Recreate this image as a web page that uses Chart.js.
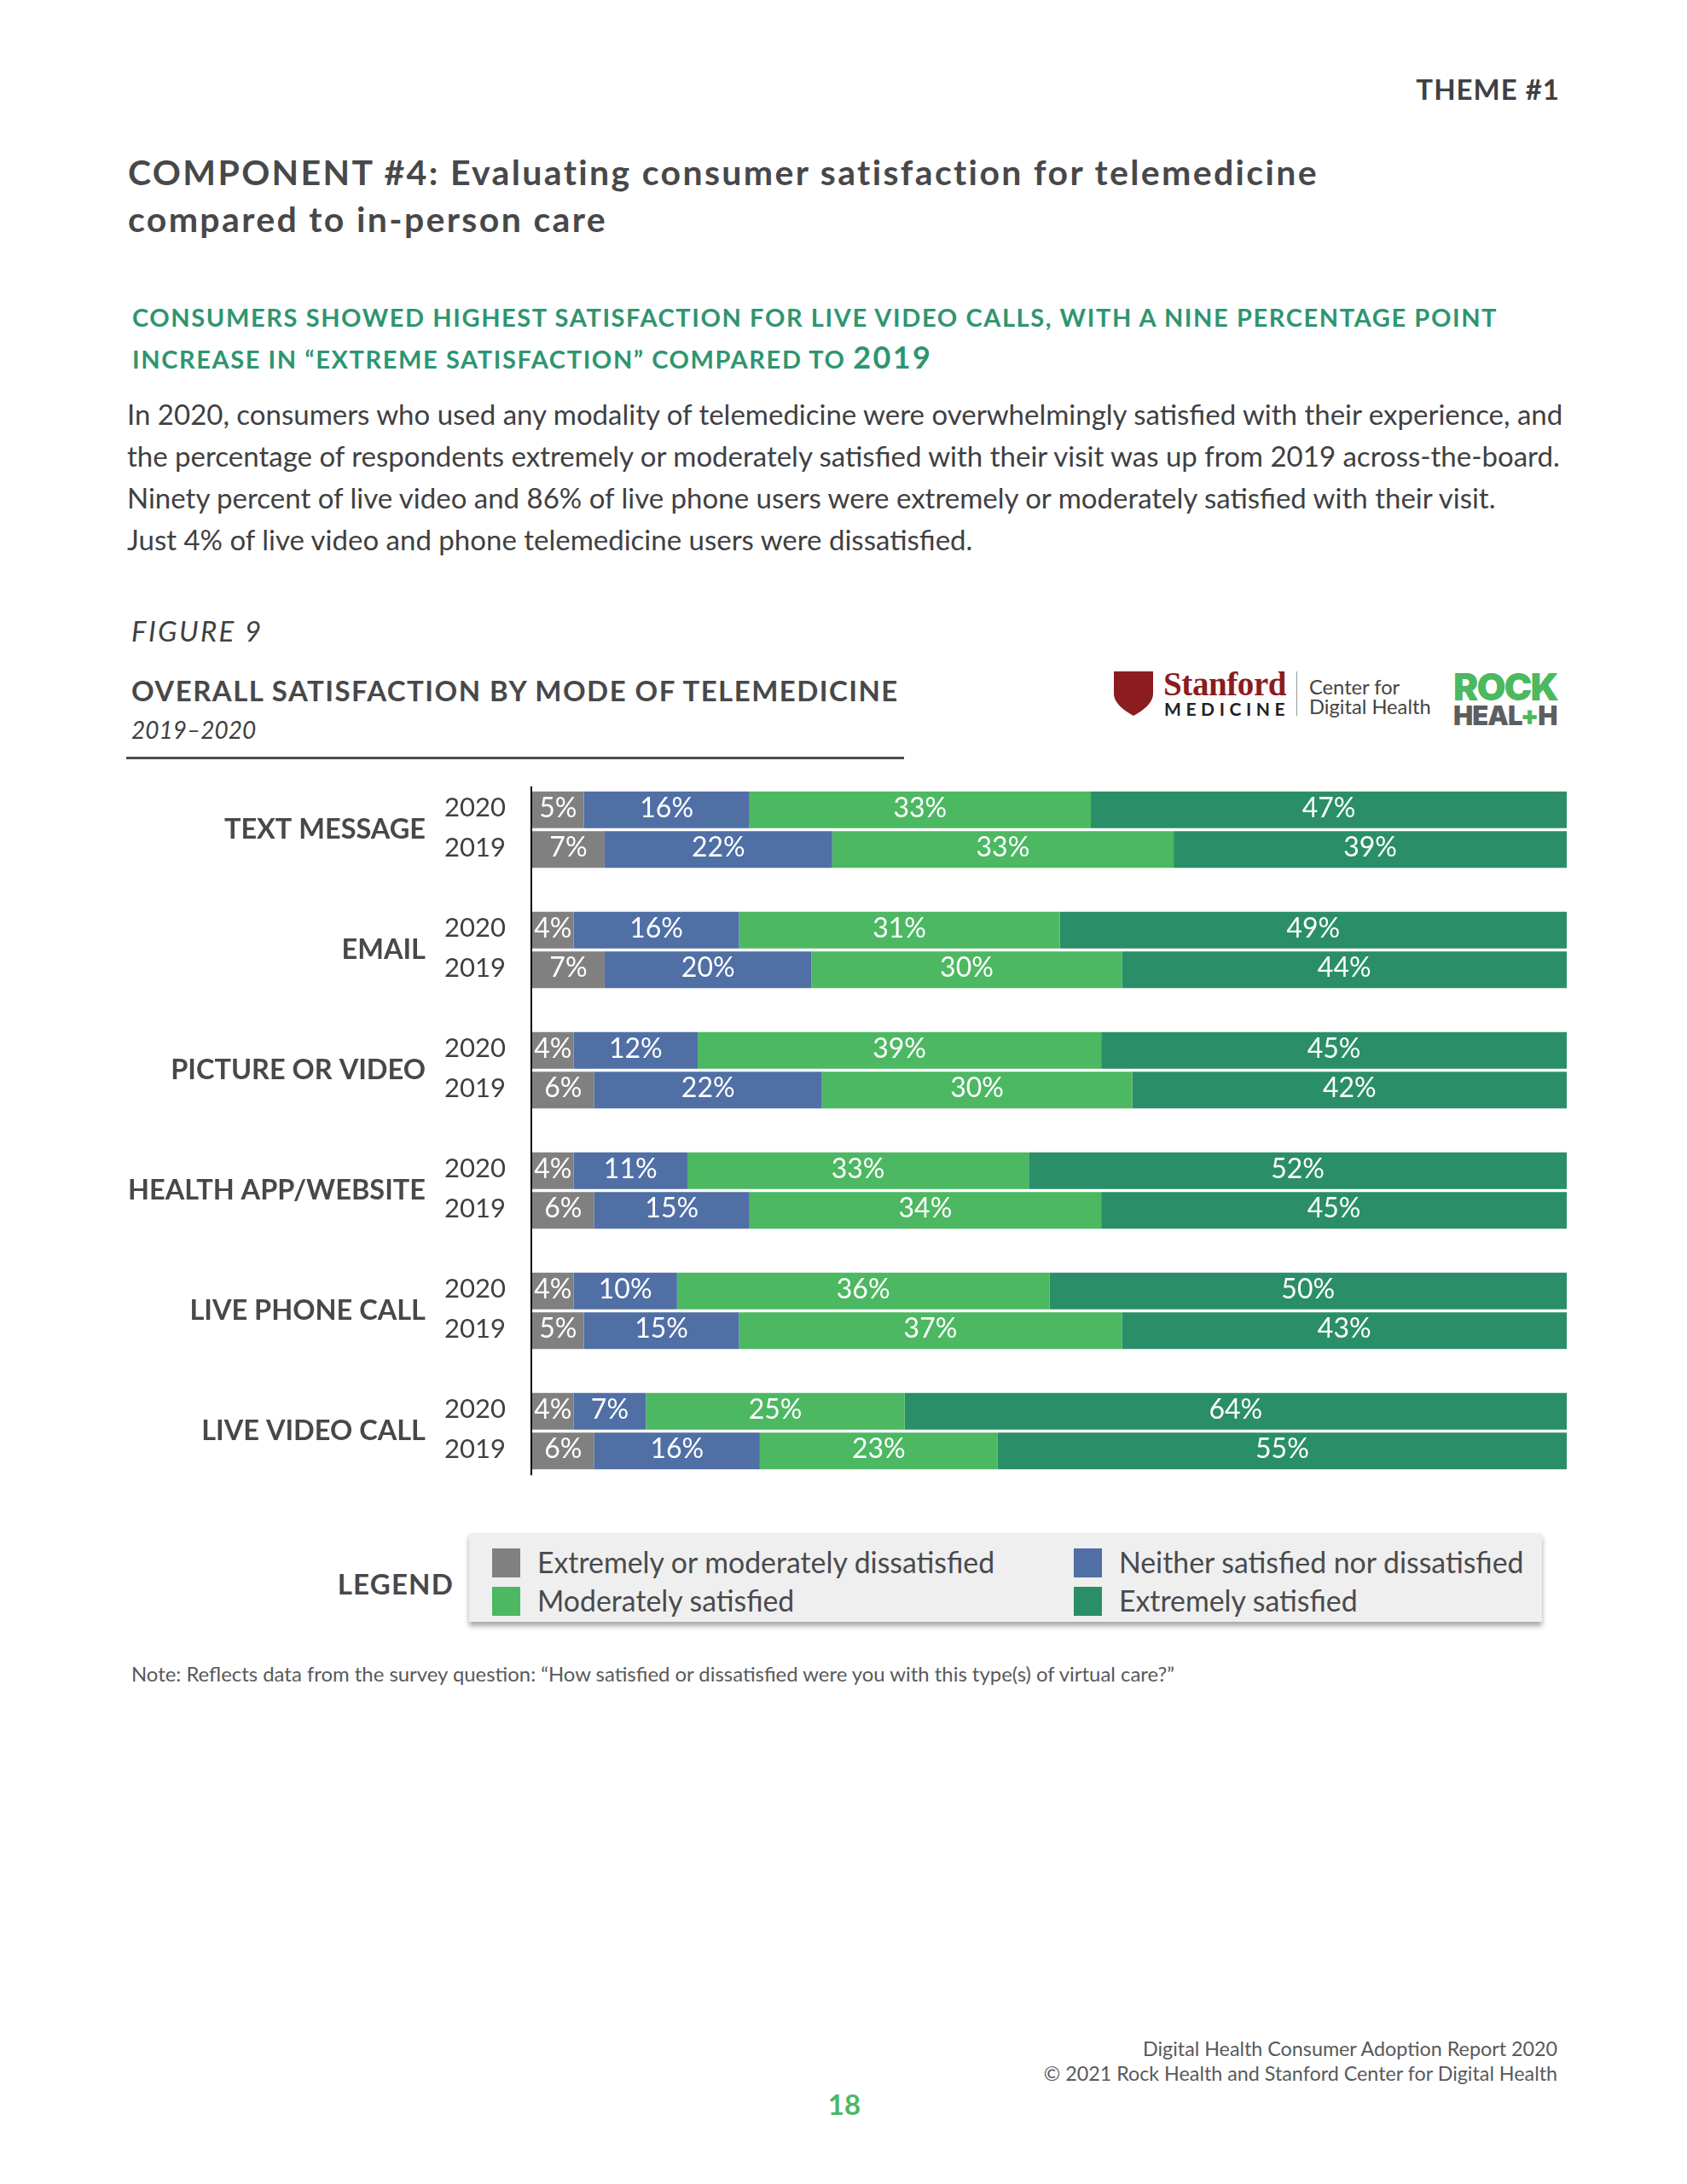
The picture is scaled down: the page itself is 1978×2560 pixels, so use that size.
<!DOCTYPE html>
<html>
<head>
<meta charset="utf-8">
<title>Overall satisfaction by mode of telemedicine</title>
<script src="https://cdn.jsdelivr.net/npm/chart.js@4"></script>
<style>
html,body{margin:0;padding:0;background:#fff;}
body{position:relative;width:1978px;height:2560px;overflow:hidden;font-family:Lato,sans-serif;color:#404042;}
.t{position:absolute;white-space:nowrap;line-height:1;transform:translateY(-50%);}
.r{transform:translate(-100%,-50%);}
#wrap{position:absolute;left:150px;top:902px;width:1687px;height:846px;}
#rule{position:absolute;left:148px;top:887px;width:912px;height:3px;background:#4d4d4f;}
#legend{position:absolute;left:550px;top:1797px;width:1258px;height:104px;background:#efefef;box-shadow:0 5px 6px rgba(0,0,0,.35);}
#legend .sw{position:absolute;width:33px;height:34px;}
#legend .lb{position:absolute;white-space:nowrap;line-height:1;font-size:33.8px;color:#4a4a4c;transform:translateY(-50%);}
</style>
</head>
<body>
<div class="t r" style="left:1829px;top:104px;font-size:33px;font-weight:700;letter-spacing:1px;">THEME #1</div>
<div class="t" style="left:150px;top:201px;font-size:41px;font-weight:700;letter-spacing:2.35px;color:#48484a;">COMPONENT #4: Evaluating consumer satisfaction for telemedicine</div>
<div class="t" style="left:150px;top:256px;font-size:41px;font-weight:700;letter-spacing:2.35px;color:#48484a;">compared to in-person care</div>
<div class="t" style="left:155px;top:371px;font-size:29px;font-weight:700;letter-spacing:1.6px;color:#2f9570;">CONSUMERS SHOWED HIGHEST SATISFACTION FOR LIVE VIDEO CALLS, WITH A NINE PERCENTAGE POINT</div>
<div class="t" style="left:155px;top:418px;font-size:29px;font-weight:700;letter-spacing:1.6px;color:#2f9570;">INCREASE IN “EXTREME SATISFACTION” COMPARED TO <span style="font-size:36px;letter-spacing:2.4px;">2019</span></div>
<div class="t" style="left:149px;top:485px;font-size:33px;">In 2020, consumers who used any modality of telemedicine were overwhelmingly satisfied with their experience, and</div>
<div class="t" style="left:149px;top:534px;font-size:33px;">the percentage of respondents extremely or moderately satisfied with their visit was up from 2019 across-the-board.</div>
<div class="t" style="left:149px;top:583px;font-size:33px;">Ninety percent of live video and 86% of live phone users were extremely or moderately satisfied with their visit.</div>
<div class="t" style="left:149px;top:632px;font-size:33px;">Just 4% of live video and phone telemedicine users were dissatisfied.</div>
<div class="t" style="left:154px;top:739px;font-size:33px;font-style:italic;letter-spacing:2.4px;">FIGURE 9</div>
<div class="t" style="left:154px;top:809px;font-size:33px;font-weight:700;letter-spacing:1.45px;color:#48484a;">OVERALL SATISFACTION BY MODE OF TELEMEDICINE</div>
<div class="t" style="left:154px;top:855px;font-size:28px;font-style:italic;">2019–2020</div>
<div id="rule"></div>

<svg style="position:absolute;left:1306px;top:787px;" width="46" height="52" viewBox="0 0 46 52"><path d="M0 0H46V26C46 38 32 47 23 52C14 47 0 38 0 26Z" fill="#8c1c20"/></svg>
<div class="t" style="left:1364px;top:801px;font-family:'Liberation Serif',serif;font-size:39px;font-weight:700;color:#8c1c20;letter-spacing:-.4px;">Stanford</div>
<div class="t" style="left:1365px;top:830px;font-size:21px;font-weight:700;letter-spacing:5.6px;color:#222;">MEDICINE</div>
<div style="position:absolute;left:1520px;top:787px;width:1px;height:52px;background:#999;"></div>
<div class="t" style="left:1535px;top:806px;font-size:23.7px;color:#444;">Center for</div>
<div class="t" style="left:1535px;top:829px;font-size:23.7px;color:#444;">Digital Health</div>
<div class="t" style="left:1704px;top:805px;font-family:Inter,sans-serif;font-size:44px;font-weight:900;color:#4cb85f;letter-spacing:-2px;">ROCK</div>
<div class="t" style="left:1704px;top:838px;font-family:Inter,sans-serif;font-size:31px;font-weight:900;color:#5d5e60;letter-spacing:-1px;">HEAL<span style="color:#4cb85f;">+</span>H</div>

<div id="wrap"><canvas id="satisfaction"></canvas></div>

<div class="t" style="left:532px;top:1856px;transform:translate(-100%,-50%);font-size:33px;font-weight:700;letter-spacing:1.2px;color:#48484a;">LEGEND</div>
<div id="legend"></div>

<div class="t" style="left:154px;top:1962px;font-size:23.9px;color:#58595b;">Note: Reflects data from the survey question: “How satisfied or dissatisfied were you with this type(s) of virtual care?”</div>
<div class="t r" style="left:1826px;top:2402px;font-size:23.3px;color:#58595b;">Digital Health Consumer Adoption Report 2020</div>
<div class="t r" style="left:1826px;top:2431px;font-size:23.3px;color:#58595b;">© 2021 Rock Health and Stanford Center for Digital Health</div>
<div class="t" style="left:990px;top:2466px;transform:translate(-50%,-50%);font-size:33px;font-weight:700;color:#4cb85f;">18</div>

<script>
const categories = ["TEXT MESSAGE", "EMAIL", "PICTURE OR VIDEO", "HEALTH APP/WEBSITE", "LIVE PHONE CALL", "LIVE VIDEO CALL"];
const years = ["2020", "2019"];
const seriesNames = ["Extremely or moderately dissatisfied", "Neither satisfied nor dissatisfied", "Moderately satisfied", "Extremely satisfied"];
const seriesColors = ["#808080", "#4f6fa5", "#4cb862", "#2a8f68"];

const dissatisfied2020 = [5, 4, 4, 4, 4, 4];
const neither2020 = [16, 16, 12, 11, 10, 7];
const moderately2020 = [33, 31, 39, 33, 36, 25];
const extremely2020 = [47, 49, 45, 52, 50, 64];

const dissatisfied2019 = [7, 7, 6, 6, 5, 6];
const neither2019 = [22, 20, 22, 15, 15, 16];
const moderately2019 = [33, 30, 30, 34, 37, 23];
const extremely2019 = [39, 44, 42, 45, 43, 55];

const values2020 = [dissatisfied2020, neither2020, moderately2020, extremely2020];
const values2019 = [dissatisfied2019, neither2019, moderately2019, extremely2019];

function makeSets(values, year) {
  return values.map((v, i) => ({
    label: seriesNames[i] + " " + year,
    data: v,
    stack: year,
    backgroundColor: seriesColors[i],
    borderWidth: 0,
    categoryPercentage: 0.66,
    barPercentage: 0.925
  }));
}

// percent labels and the year next to each bar
const barText = {
  id: "barText",
  afterDatasetsDraw(chart) {
    const ctx = chart.ctx;
    const area = chart.chartArea;
    ctx.save();
    ctx.textBaseline = "middle";
    chart.data.datasets.forEach((ds, d) => {
      chart.getDatasetMeta(d).data.forEach((bar, i) => {
        const right = Math.min(bar.x, area.right);
        ctx.fillStyle = "#fff";
        ctx.textAlign = "center";
        ctx.font = "32px Lato";
        ctx.fillText(ds.data[i] + "%", (bar.base + right) / 2, bar.y - 2);
        if (d % 4 === 0) {
          ctx.fillStyle = "#404042";
          ctx.textAlign = "right";
          ctx.font = "31px Lato";
          ctx.fillText(ds.stack, area.left - 31, bar.y - 2);
        }
      });
    });
    // axis line runs only a little past the first and last bar
    const first = chart.getDatasetMeta(0).data[0];
    const last = chart.getDatasetMeta(4).data[categories.length - 1];
    ctx.strokeStyle = "#000";
    ctx.lineWidth = 2;
    ctx.beginPath();
    ctx.moveTo(area.left - 1, first.y - first.height / 2 - 6);
    ctx.lineTo(area.left - 1, last.y + last.height / 2 + 7);
    ctx.stroke();
    ctx.restore();
  }
};

new Chart("satisfaction", {
  type: "bar",
  data: {
    labels: categories,
    datasets: makeSets(values2020, years[0]).concat(makeSets(values2019, years[1]))
  },
  options: {
    indexAxis: "y",
    responsive: true,
    maintainAspectRatio: false,
    animation: false,
    plugins: { legend: { display: false }, tooltip: { enabled: false } },
    scales: {
      x: { stacked: true, min: 0, max: 100, display: false },
      y: {
        stacked: true,
        // the wide tick padding must not eat into the plot height
        afterFit: s => { s.width = 474; s.paddingTop = 0; s.paddingBottom = 0; },
        grid: { display: false, drawTicks: false },
        border: { display: false },
        ticks: { autoSkip: false, padding: 125, color: "#48484a", font: { family: "Lato", size: 32.5, weight: "bold" } }
      }
    }
  },
  plugins: [barText]
});

// legend box, two columns
const legendBox = document.getElementById("legend");
const legendOrder = [0, 1, 2, 3];
legendOrder.forEach(i => {
  const col = i % 2, row = Math.floor(i / 2);
  const sw = document.createElement("div");
  sw.className = "sw";
  sw.style.left = (col ? 709 : 27) + "px";
  sw.style.top = (row ? 63 : 18) + "px";
  sw.style.background = seriesColors[i];
  const lb = document.createElement("div");
  lb.className = "lb";
  lb.style.left = (col ? 762 : 80) + "px";
  lb.style.top = (row ? 80 : 35) + "px";
  lb.textContent = seriesNames[i];
  legendBox.appendChild(sw);
  legendBox.appendChild(lb);
});
</script>
</body>
</html>
